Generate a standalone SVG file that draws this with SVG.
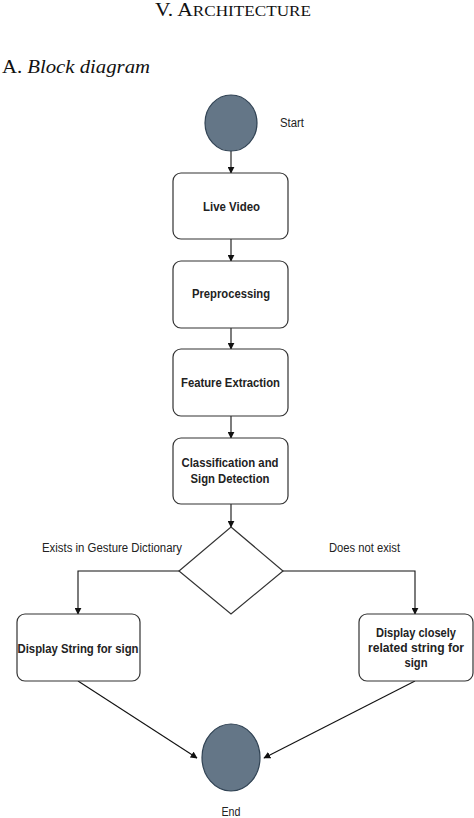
<svg xmlns="http://www.w3.org/2000/svg" width="474" height="818" viewBox="0 0 474 818">
<style>
.box{fill:#fff;stroke:#333;stroke-width:1.2}
.term{fill:#647687;stroke:#314354;stroke-width:1.2}
.bt{font-family:"Liberation Sans",Arial,sans-serif;font-size:13px;font-weight:bold;fill:#222;text-anchor:middle}
.lt{font-family:"Liberation Sans",Arial,sans-serif;font-size:12.5px;fill:#222}
.ln{fill:none;stroke:#111;stroke-width:1.1}
.hd{font-family:"Liberation Serif","Times New Roman",serif;fill:#111}
</style>
<defs>
<marker id="ah" viewBox="0 0 10 10" refX="9" refY="5" markerWidth="7" markerHeight="7" markerUnits="userSpaceOnUse" orient="auto">
<path d="M0,0 L10,5 L0,10 Z" fill="#111"/>
</marker>
</defs>
<rect width="474" height="818" fill="#fff"/>
<text class="hd" x="155" y="16" font-size="18" textLength="156" lengthAdjust="spacingAndGlyphs">V. A<tspan font-size="14.4">RCHITECTURE</tspan></text>
<text class="hd" x="2" y="73" font-size="18" textLength="148" lengthAdjust="spacingAndGlyphs">A. <tspan font-style="italic">Block diagram</tspan></text>
<g id="connectors">
<line class="ln" x1="231" y1="151" x2="231" y2="173" marker-end="url(#ah)"/>
<line class="ln" x1="231" y1="239" x2="231" y2="261" marker-end="url(#ah)"/>
<line class="ln" x1="231" y1="328" x2="231" y2="349" marker-end="url(#ah)"/>
<line class="ln" x1="231" y1="416" x2="231" y2="438" marker-end="url(#ah)"/>
<line class="ln" x1="231" y1="504" x2="231" y2="527" marker-end="url(#ah)"/>
<polyline class="ln" points="179,571 78,571 78,614" marker-end="url(#ah)"/>
<polyline class="ln" points="283,571 415,571 415,614" marker-end="url(#ah)"/>
<line class="ln" x1="78" y1="681" x2="197" y2="758" marker-end="url(#ah)"/>
<line class="ln" x1="415" y1="681" x2="264" y2="758" marker-end="url(#ah)"/>
<text class="lt" x="42" y="552" textLength="140" lengthAdjust="spacingAndGlyphs">Exists in Gesture Dictionary</text>
<text class="lt" x="329" y="552" textLength="71" lengthAdjust="spacingAndGlyphs">Does not exist</text>
</g>
<g id="start">
<ellipse class="term" cx="231" cy="123" rx="26" ry="28"/>
<text class="lt" x="280" y="127" textLength="24" lengthAdjust="spacingAndGlyphs">Start</text>
</g>
<g id="live-video">
<rect class="box" x="173" y="173" width="115" height="66" rx="8"/>
<text class="bt" x="231.5" y="211" textLength="57" lengthAdjust="spacingAndGlyphs">Live Video</text>
</g>
<g id="preprocessing">
<rect class="box" x="173" y="261" width="115" height="67" rx="8"/>
<text class="bt" x="231" y="297.5" textLength="78" lengthAdjust="spacingAndGlyphs">Preprocessing</text>
</g>
<g id="feature-extraction">
<rect class="box" x="173" y="349" width="115" height="67" rx="8"/>
<text class="bt" x="230.5" y="386.5" textLength="99" lengthAdjust="spacingAndGlyphs">Feature Extraction</text>
</g>
<g id="classification">
<rect class="box" x="173" y="438" width="115" height="66" rx="8"/>
<text class="bt" x="230" y="466.5" textLength="97" lengthAdjust="spacingAndGlyphs">Classification and</text>
<text class="bt" x="230" y="483" textLength="79" lengthAdjust="spacingAndGlyphs">Sign Detection</text>
</g>
<g id="decision">
<polygon class="box" points="231,527 283,571 231,614 179,571"/>
</g>
<g id="display-string">
<rect class="box" x="17" y="614" width="123" height="67" rx="8"/>
<text class="bt" x="78" y="653" textLength="121" lengthAdjust="spacingAndGlyphs">Display String for sign</text>
</g>
<g id="display-related">
<rect class="box" x="359" y="614" width="114" height="67" rx="8"/>
<text class="bt" x="416" y="637" textLength="80" lengthAdjust="spacingAndGlyphs">Display closely</text>
<text class="bt" x="416" y="652" textLength="96" lengthAdjust="spacingAndGlyphs">related string for</text>
<text class="bt" x="416" y="667" textLength="23" lengthAdjust="spacingAndGlyphs">sign</text>
</g>
<g id="end">
<ellipse class="term" cx="231" cy="757.5" rx="29" ry="33.5"/>
<text class="lt" x="231" y="816" text-anchor="middle" textLength="19" lengthAdjust="spacingAndGlyphs">End</text>
</g>
</svg>
